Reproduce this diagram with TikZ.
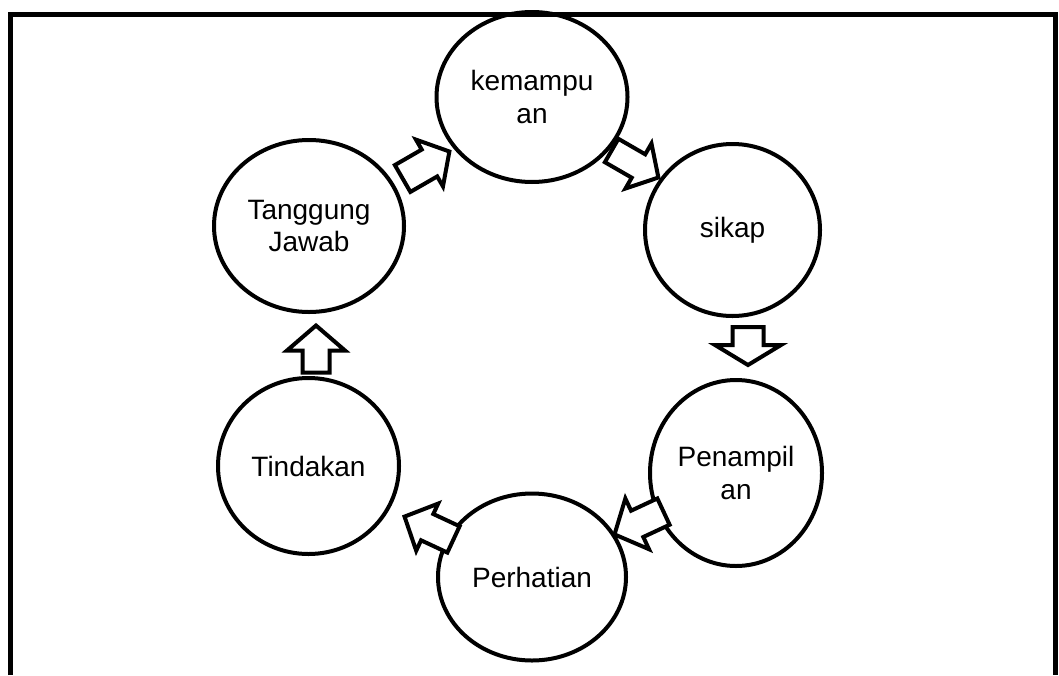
\documentclass[tikz,border=0pt]{standalone}
\usepackage{fontspec}
\setmainfont{Liberation Sans}
\usetikzlibrary{shapes.geometric,calc}
\begin{document}
\begin{tikzpicture}[x=0.75pt,y=-0.75pt,
  ell/.style={ellipse,draw=black,line width=3pt,inner sep=0pt,align=center,
    font=\fontsize{21}{24.5}\selectfont},
  frame/.style={line width=3.75pt,draw=black},
  barrowline/.style={draw=black,line width=3pt,fill=white,line join=miter,miter limit=4},
  pics/blockarr/.style args={#1/#2/#3/#4}{code={
    \draw[barrowline] (-#1/2,-#3/2) -- (#1/2-#4,-#3/2) -- (#1/2-#4,-#2/2) -- (#1/2,0)
      -- (#1/2-#4,#2/2) -- (#1/2-#4,#3/2) -- (-#1/2,#3/2) -- cycle;
  }}]
\useasboundingbox (0,0) rectangle (1059,675);
\coordinate (fbl) at (10.5,675);
\coordinate (ftl) at (10.5,14.5);
\coordinate (ftr) at (1055.5,14.5);
\coordinate (fbr) at (1055.5,675);
\draw[frame] (fbl) -- (ftl) -- (ftr) -- (fbr);

\node[ell,minimum width=143.25pt,minimum height=127.5pt] (kem) at (532,97) {kemampu\\an};
\node[ell,minimum width=131.25pt,minimum height=129pt] (sik) at (732.5,230) {sikap};
\node[ell,minimum width=129pt,minimum height=139.5pt] (pen) at (736,473) {Penampil\\an};
\node[ell,minimum width=141pt,minimum height=125.25pt] (per) at (532,577) {Perhatian};
\node[ell,minimum width=135.75pt,minimum height=132pt] (tin) at (308.5,466) {Tindakan};
\node[ell,minimum width=142.5pt,minimum height=129pt] (tan) at (309,226) {Tanggung\\Jawab};

\pic[rotate=30] at (426,165) {blockarr=54/54/31/23};
\pic[rotate=-30] at (635,164) {blockarr=54/52/27/23};
\pic[rotate=-90] at (748,346) {blockarr=38/66/31/20};
\pic[rotate=-155] at (639,523) {blockarr=54/56/29/25};
\pic[rotate=155] at (429,528) {blockarr=54/52/29/25};
\pic[rotate=90] at (316,349) {blockarr=47/58/27/25};
\end{tikzpicture}
\end{document}
